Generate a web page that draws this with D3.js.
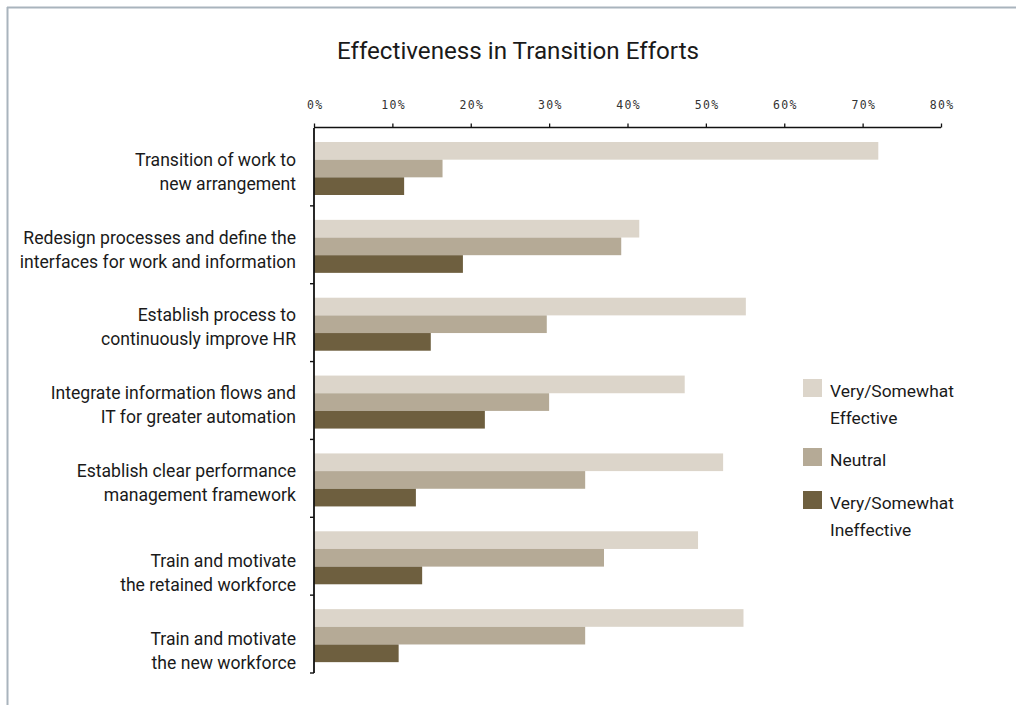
<!DOCTYPE html>
<html>
<head>
<meta charset="utf-8">
<script src="https://cdn.jsdelivr.net/npm/d3@7"></script>
<style>
  body { margin: 0; background: #fff; }
  svg { display: block; }
</style>
</head>
<body>
<svg id="chart" width="1016" height="705"></svg>
<script>
// Category labels (line breaks split each label into lines)
const categories = [
  "Transition of work to\nnew arrangement",
  "Redesign processes and define the\ninterfaces for work and information",
  "Establish process to\ncontinuously improve HR",
  "Integrate information flows and\nIT for greater automation",
  "Establish clear performance\nmanagement framework",
  "\nTrain and motivate\nthe retained workforce",
  "\nTrain and motivate\nthe new workforce"
];
const seriesNames = ["Very/Somewhat\nEffective", "Neutral", "Very/Somewhat\nIneffective"];
// Percent of respondents per category
const effective   = [72.0, 41.5, 55.1, 47.3, 52.2, 49.0, 54.8];
const neutral     = [16.4, 39.2, 29.7, 30.0, 34.6, 37.0, 34.6];
const ineffective = [11.5, 19.0, 14.9, 21.8, 13.0, 13.8, 10.8];
const tickValues  = [0, 10, 20, 30, 40, 50, 60, 70, 80];
const colors      = ["#dcd5ca", "#b5aa96", "#6e5f3f"];

const series = [effective, neutral, ineffective];
const svg = d3.select("#chart");
const FONT = "Roboto, 'Open Sans', sans-serif";

// Frame lines at top and left
svg.append("line").attr("x1", 7).attr("x2", 1016).attr("y1", 7.5).attr("y2", 7.5)
  .attr("stroke", "#a9b4bd").attr("stroke-width", 2);
svg.append("line").attr("x1", 7.5).attr("x2", 7.5).attr("y1", 7).attr("y2", 705)
  .attr("stroke", "#a9b4bd").attr("stroke-width", 2);

// Title
svg.append("text")
  .attr("x", 518).attr("y", 59)
  .attr("text-anchor", "middle")
  .attr("font-family", FONT).attr("font-size", 24.2)
  .attr("fill", "#1a1a1a")
  .text("Effectiveness in Transition Efforts");

// Scales
const x = d3.scaleLinear().domain([0, 80]).range([314, 941]);
const y = d3.scaleBand().domain(d3.range(categories.length)).range([128, 673]);
const inner = d3.scaleBand().domain(d3.range(series.length)).range([14, 67]);

// Bars
const groups = svg.append("g").selectAll("g")
  .data(categories.map((c, i) => i))
  .join("g")
  .attr("transform", i => `translate(0,${y(i)})`);

groups.selectAll("rect")
  .data(i => series.map((s, k) => ({ k, v: s[i] })))
  .join("rect")
  .attr("x", x(0))
  .attr("y", d => inner(d.k))
  .attr("width", d => x(d.v) - x(0))
  .attr("height", inner.bandwidth())
  .attr("fill", d => colors[d.k]);

// Top value axis
const xAxis = svg.append("g")
  .attr("transform", "translate(0,127.5)")
  .call(d3.axisTop(x).tickValues(tickValues).tickSize(4).tickPadding(15)
    .tickFormat(d => d + "%"));
xAxis.select(".domain").attr("stroke", "#111").attr("stroke-width", 1.6)
  .attr("d", `M${x(0)},0H${x(80)}`);
xAxis.selectAll(".tick line").attr("stroke", "#111").attr("stroke-width", 1.3);
xAxis.selectAll(".tick text")
  .attr("font-family", "'DejaVu Sans Mono', monospace")
  .attr("font-size", 11.5)
  .attr("letter-spacing", "1.3px")
  .attr("dx", "0.65px")
  .attr("fill", "#333");

// Left category axis with boundary ticks
const yAx = svg.append("g");
yAx.append("line")
  .attr("x1", x(0)).attr("x2", x(0))
  .attr("y1", y.range()[0]).attr("y2", y.range()[1])
  .attr("stroke", "#111").attr("stroke-width", 1.8);
const bounds = d3.range(categories.length + 1).map(i => y.range()[0] + i * y.step());
yAx.selectAll(".bt").data(bounds.slice(1)).join("line")
  .attr("class", "bt")
  .attr("x1", x(0) - 4).attr("x2", x(0))
  .attr("y1", d => d).attr("y2", d => d)
  .attr("stroke", "#111").attr("stroke-width", 1.4);

// Category labels
const lineH = 24;
svg.append("g").selectAll("text")
  .data(categories)
  .join("text")
  .attr("text-anchor", "end")
  .attr("font-family", FONT).attr("font-size", 17.6)
  .attr("fill", "#1a1a1a")
  .each(function (c, i) {
    const lines = c.split("\n");
    const cy = y(i) + 14 + (67 - 14) / 2 + 3;
    const top = cy - (lines.length - 1) * lineH / 2;
    d3.select(this).selectAll("tspan")
      .data(lines)
      .join("tspan")
      .attr("x", 296)
      .attr("y", (l, j) => top + j * lineH)
      .attr("dy", "0.35em")
      .text(l => l);
  });

// Legend
const legendY = [379, 448, 491];
const legend = svg.append("g").selectAll("g")
  .data(seriesNames)
  .join("g")
  .attr("transform", (d, i) => `translate(803,${legendY[i]})`);
legend.append("rect")
  .attr("width", 19).attr("height", 18)
  .attr("fill", (d, i) => colors[i]);
legend.append("text")
  .attr("font-family", FONT).attr("font-size", 17.4)
  .attr("fill", "#1a1a1a")
  .selectAll("tspan")
  .data(d => d.split("\n"))
  .join("tspan")
  .attr("x", 27)
  .attr("y", (l, j) => 18 + j * 27)
  .text(l => l);
</script>
</body>
</html>
